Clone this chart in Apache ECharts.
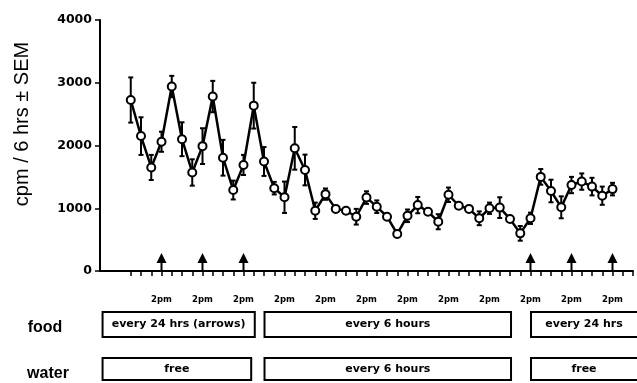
<!DOCTYPE html>
<html><head><meta charset="utf-8">
<script src="https://cdn.jsdelivr.net/npm/echarts@6/dist/echarts.min.js"></script>
<style>html,body{margin:0;padding:0;background:#fff}#c{width:637px;height:383px}</style>
</head><body><div id="c"></div>
<script>
// Activity (cpm per 6 hrs) every 6 hours; index 0 = first sample
const means = [2725, 2150, 1650, 2060, 2940, 2100, 1570, 1990, 2780, 1805, 1290, 1690,
               2635, 1745, 1320, 1175, 1955, 1610, 960, 1225, 990, 960, 865, 1170,
               1025, 865, 590, 880, 1050, 945, 785, 1215, 1040, 990, 840, 1000,
               1010, 830, 600, 840, 1500, 1275, 1015, 1370, 1425, 1345, 1200, 1305];
const sems  = [360, 300, 200, 160, 170, 270, 210, 285, 250, 285, 150, 160,
               365, 230, 100, 250, 340, 245, 130, 90, 0, 0, 125, 100,
               100, 0, 50, 100, 130, 0, 120, 115, 0, 0, 110, 90,
               165, 0, 117, 90, 125, 180, 175, 130, 130, 140, 145, 100];
const feedArrows = [3, 7, 11, 39, 43, 47];
const labelTicks = [3, 7, 11, 15, 19, 23, 27, 31, 35, 39, 43, 47];
const tickLabel = '2pm';
const xTicks = Array.from({length: 50}, (_, k) => k);
const yTicks = [0, 1000, 2000, 3000, 4000];
const foodStart = [-2.75, 13.05, 39.05];
const foodEnd   = [12.1, 37.1, 51];
const foodText  = ['every 24 hrs (arrows)', 'every 6 hours', 'every 24 hrs'];
const waterStart = [-2.75, 13.05, 39.05];
const waterEnd   = [11.75, 37.1, 51];
const waterText  = ['free', 'every 6 hours', 'free'];

const chart = echarts.init(document.getElementById('c'), null, {renderer: 'canvas'});
const lineData = means.map((v, i) => [i, v]);
const errData = means.map((v, i) => [i, v, sems[i]]).filter(d => d[2] > 0);
const boxData = [];
for (let i = 0; i < foodStart.length; i++) boxData.push([i, 0]);
for (let i = 0; i < waterStart.length; i++) boxData.push([i, 1]);

chart.setOption({
  animation: false,
  backgroundColor: '#fff',
  grid: {left: 100, right: 4, top: 20, bottom: 112},
  xAxis: {
    type: 'value', min: -3, max: 49,
    axisLine: {show: true, onZero: false, lineStyle: {color: '#000', width: 2}},
    axisTick: {show: true, customValues: xTicks, length: 5, lineStyle: {color: '#000', width: 1.5}},
    axisLabel: {show: true, customValues: labelTicks, formatter: () => tickLabel, margin: 24,
      color: '#000', fontFamily: 'DejaVu Sans', fontWeight: 'bold', fontSize: 8.5},
    splitLine: {show: false}
  },
  yAxis: {
    type: 'value', min: 0, max: 4000,
    axisLine: {show: true, onZero: false, lineStyle: {color: '#000', width: 2}},
    axisTick: {show: true, customValues: yTicks, length: 5, lineStyle: {color: '#000', width: 1.5}},
    axisLabel: {customValues: yTicks, formatter: v => String(v), margin: 8, color: '#000',
      fontFamily: 'DejaVu Sans', fontWeight: 'bold', fontSize: 12.5},
    splitLine: {show: false}
  },
  graphic: [
    {type: 'text', x: 22, y: 124, rotation: Math.PI / 2,
     style: {text: 'cpm / 6 hrs \u00b1 SEM', fill: '#000', font: '20px "Liberation Sans", Arial, sans-serif', align: 'center', verticalAlign: 'middle'}},
    {type: 'text', x: 45, y: 328,
     style: {text: 'food', fill: '#000', font: 'bold 16px "Liberation Sans", Arial, sans-serif', align: 'center', verticalAlign: 'middle'}},
    {type: 'text', x: 48, y: 374,
     style: {text: 'water', fill: '#000', font: 'bold 16px "Liberation Sans", Arial, sans-serif', align: 'center', verticalAlign: 'middle'}}
  ],
  series: [
    {
      type: 'custom', z: 2, data: errData,
      renderItem: (params, api) => {
        const m = api.value(1), s = api.value(2);
        const top = api.coord([api.value(0), m + s]);
        const bot = api.coord([api.value(0), m - s]);
        const x = top[0], cw = 2.5;
        const st = {stroke: '#000', lineWidth: 2};
        return {type: 'group', children: [
          {type: 'line', shape: {x1: x, y1: top[1], x2: x, y2: bot[1]}, style: st},
          {type: 'line', shape: {x1: x - cw, y1: top[1], x2: x + cw, y2: top[1]}, style: st},
          {type: 'line', shape: {x1: x - cw, y1: bot[1], x2: x + cw, y2: bot[1]}, style: st}
        ]};
      }
    },
    {
      type: 'line', z: 3, data: lineData,
      symbol: 'circle', symbolSize: 8,
      itemStyle: {color: '#fff', borderColor: '#000', borderWidth: 2},
      lineStyle: {color: '#000', width: 2.5}
    },
    {
      type: 'custom', z: 3, data: feedArrows.map(i => [i, 0]),
      renderItem: (params, api) => {
        const p = api.coord([api.value(0), 0]);
        const x = p[0], y = p[1];
        return {type: 'group', children: [
          {type: 'line', shape: {x1: x, y1: y, x2: x, y2: y - 10}, style: {stroke: '#000', lineWidth: 2}},
          {type: 'polygon', shape: {points: [[x - 5, y - 8], [x + 5, y - 8], [x, y - 18]]}, style: {fill: '#000'}}
        ]};
      }
    },
    {
      type: 'custom', z: 3, clip: false, data: boxData,
      renderItem: (params, api) => {
        const i = api.value(0), row = api.value(1);
        const s = row === 0 ? foodStart[i] : waterStart[i];
        const e = row === 0 ? foodEnd[i] : waterEnd[i];
        const t = row === 0 ? foodText[i] : waterText[i];
        const axisY = api.coord([0, 0])[1];
        const x1 = api.coord([s, 0])[0], x2 = api.coord([e, 0])[0];
        const top = axisY + (row === 0 ? 41 : 87);
        const h = row === 0 ? 25 : 22;
        const cx = (x1 + Math.min(x2, api.getWidth())) / 2;
        return {type: 'group', children: [
          {type: 'rect', shape: {x: x1, y: top, width: x2 - x1, height: h},
           style: {fill: '#fff', stroke: '#000', lineWidth: 2}},
          {type: 'text', x: cx, y: top + h / 2,
           style: {text: t, fill: '#000', font: 'bold 11px "DejaVu Sans", sans-serif', align: 'center', verticalAlign: 'middle'}}
        ]};
      }
    }
  ]
});
</script></body></html>
